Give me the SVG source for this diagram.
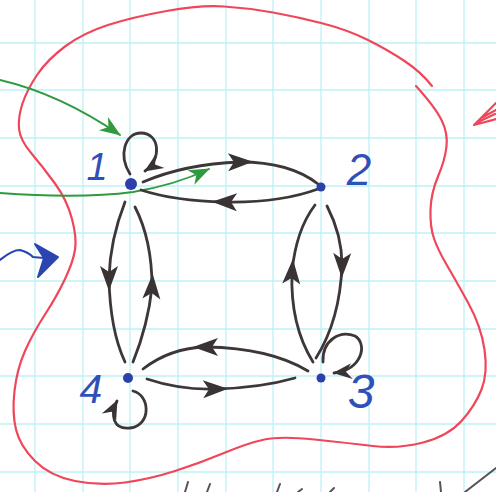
<svg xmlns="http://www.w3.org/2000/svg" width="496" height="492" viewBox="0 0 496 492">
<style>
.grid line{stroke:#bdf1f5;stroke-width:1.3}
.edge{fill:none;stroke:#3d3737;stroke-width:2.8;stroke-linecap:round}
.node circle{fill:#2b40a8}
.label{font-family:"Liberation Sans","DejaVu Sans",sans-serif;font-style:italic;fill:#2f50b8}
.red{fill:none;stroke:#f0465a;stroke-width:2.2;stroke-linecap:round;stroke-linejoin:round}
.green{fill:none;stroke:#2f9a3e;stroke-width:1.8;stroke-linecap:round}
.scrib{fill:none;stroke:#55525a;stroke-width:2;stroke-linecap:round}
</style>
<defs>
<marker id="mid" markerUnits="userSpaceOnUse" viewBox="-14 -11 28 22" markerWidth="28" markerHeight="22" refX="0" refY="0" orient="auto">
<path d="M13,0 L-12,-9 L-6,0 L-12,9 Z" fill="#3a3333"/>
</marker>
<marker id="end" markerUnits="userSpaceOnUse" viewBox="-20 -10 22 20" markerWidth="22" markerHeight="20" refX="0" refY="0" orient="auto">
<path d="M1,0 L-18,-8 L-12,0 L-18,8 Z" fill="#3a3333"/>
</marker>
<marker id="gend" markerUnits="userSpaceOnUse" viewBox="-22 -10 24 20" markerWidth="24" markerHeight="20" refX="0" refY="0" orient="auto">
<path d="M1,0 L-20,-8 L-14,0 L-20,8 Z" fill="#2f9a3e"/>
</marker>
</defs>
<rect width="496" height="492" fill="#ffffff"/>
<g class="grid">
<line x1="35" y1="0" x2="35" y2="492"/><line x1="83" y1="0" x2="83" y2="492"/><line x1="130" y1="0" x2="130" y2="492"/><line x1="178" y1="0" x2="178" y2="492"/><line x1="226" y1="0" x2="226" y2="492"/><line x1="273" y1="0" x2="273" y2="492"/><line x1="321" y1="0" x2="321" y2="492"/><line x1="369" y1="0" x2="369" y2="492"/><line x1="416" y1="0" x2="416" y2="492"/><line x1="464" y1="0" x2="464" y2="492"/>
<line x1="0" y1="43" x2="496" y2="43"/><line x1="0" y1="90" x2="496" y2="90"/><line x1="0" y1="138" x2="496" y2="138"/><line x1="0" y1="186" x2="496" y2="186"/><line x1="0" y1="233" x2="496" y2="233"/><line x1="0" y1="281" x2="496" y2="281"/><line x1="0" y1="329" x2="496" y2="329"/><line x1="0" y1="376" x2="496" y2="376"/><line x1="0" y1="424" x2="496" y2="424"/><line x1="0" y1="472" x2="496" y2="472"/>
</g>
<g id="boundary">
<path class="red" d="M416,86 Q435,107 441.5,120 Q448,133 446.5,146.5 Q445,160 438,176.5 Q431,193 430.5,210 Q430,227 434,238.5 Q438,250 446.5,264.5 Q455,279 468,302.5 Q481,326 484.5,349.5 Q488,373 481.5,389.5 Q475,406 461.5,421 Q448,436 423,442.5 Q398,449 373,446 Q348,443 314.5,439.5 Q281,436 264.5,439.5 Q248,443 224,453 Q200,463 175,471 Q150,479 125,482.5 Q100,486 75,481 Q50,476 35,461 Q20,446 16,429.5 Q12,413 14.5,391 Q17,369 25,351 Q33,333 45,314.5 Q57,296 65,279 Q73,262 75,250 Q77,238 72,219 Q67,200 55,183.5 Q43,167 31.5,153.5 Q20,140 19,128.5 Q18,117 22.5,103.5 Q27,90 37,75 Q47,60 65,46.5 Q83,33 108,25 Q133,17 166.5,11 Q200,5 224,6.5 Q248,8 273,12.5 Q298,17 323,23.5 Q348,30 368,40 Q388,50 404.5,61 Q421,72 432,86"/>
<path class="red" d="M496,103 L474,125 L496,119 M483,117 L496,110 M478,122 L495,114"/>
</g>
<g id="inputs">
<path class="green" d="M0,80 Q60,94 120,135" marker-end="url(#gend)"/>
<path class="green" d="M0,193 Q80,199 133,192 Q175,185 209,169" marker-end="url(#gend)"/>
<path d="M0,260 Q12,250 20,250 Q28,252 33,257 L44,258" fill="none" stroke="#2a45b0" stroke-width="2.2" stroke-linecap="round"/>
<path d="M35,244 L58,257 L38,277 L44,258 Z" fill="#2a45b0" stroke="#2a45b0" stroke-width="2" stroke-linejoin="round"/>
</g>
<g id="connectors">
<path class="edge" d="M143,182 Q185,164 240,162 Q290,162 318,184" marker-mid="url(#mid)"/>
<path class="edge" d="M318,189 Q280,203 225,202 Q175,201 141,190" marker-mid="url(#mid)"/>
<path class="edge" d="M327,206 Q342,235 342,265 Q340,320 316,358" marker-mid="url(#mid)"/>
<path class="edge" d="M313,362 Q290,325 292,272 Q296,230 315,205" marker-mid="url(#mid)"/>
<path class="edge" d="M125,202 Q110,240 109,278 Q110,330 125,362" marker-mid="url(#mid)"/>
<path class="edge" d="M133,362 Q148,325 152,287 Q152,240 135,207" marker-mid="url(#mid)"/>
<path class="edge" d="M308,371 Q270,348 206,347 Q170,348 143,369" marker-mid="url(#mid)"/>
<path class="edge" d="M147,379 Q180,390 215,389 Q260,388 295,378" marker-mid="url(#mid)"/>
<path class="edge" d="M130,174 C118,155 125,133 141,133 C160,133 162,160 145,171" marker-end="url(#end)"/>
<path class="edge" d="M323,362 C322,340 340,330 355,336 C368,344 362,370 334,373" marker-end="url(#end)"/>
<path class="edge" d="M133,391 C150,395 152,425 130,428 C113,430 110,415 117,401" marker-end="url(#end)"/>
</g>
<g id="node1" class="node"><circle cx="131" cy="184" r="6"/><text class="label" x="97" y="180" font-size="38" text-anchor="middle">1</text></g>
<g id="node2" class="node"><circle cx="321" cy="187" r="4.5"/><text class="label" x="359" y="185" font-size="44" text-anchor="middle">2</text></g>
<g id="node3" class="node"><circle cx="321" cy="378" r="4.5"/><text class="label" x="361" y="408" font-size="48" text-anchor="middle">3</text></g>
<g id="node4" class="node"><circle cx="128" cy="378" r="5"/><text class="label" x="91" y="403" font-size="41" text-anchor="middle">4</text></g>
<g id="scribbles">
<path class="scrib" d="M185,492 L188,482 M207,492 L210,484 M277,492 L280,484 M298,492 L302,489 M330,492 L334,488 M440,482 L441,492 M465,492 L496,468"/>
</g>
</svg>
